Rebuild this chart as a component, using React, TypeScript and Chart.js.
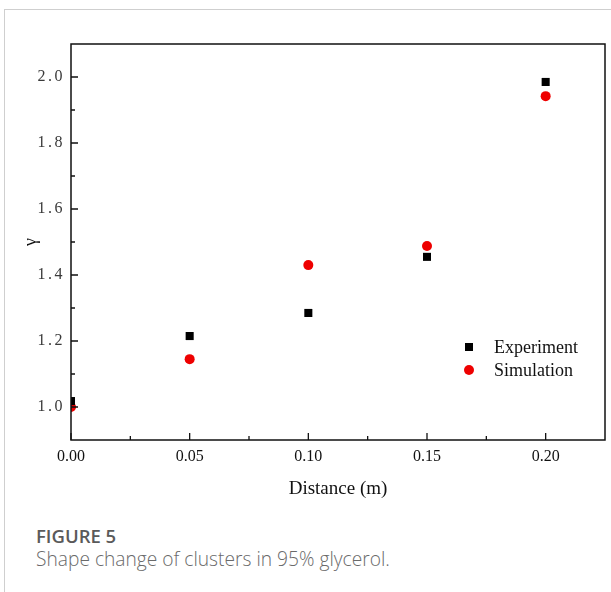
import React, { useEffect, useRef } from "react";
import { Chart, registerables, LinearScale } from "chart.js";

Chart.register(...registerables);

class SpacedLinearScale extends (LinearScale as any) {
  static id = "spacedLinear";
  static defaults = (LinearScale as any).defaults;
  drawLabels(area: any) {
    const ctx = (this as any).ctx;
    ctx.save();
    (ctx as any).letterSpacing = "2.5px";
    super.drawLabels(area);
    ctx.restore();
  }
}
Chart.register(SpacedLinearScale as any);

const distances = [0, 0.05, 0.1, 0.15, 0.2];
const experimentValues = [1.018, 1.215, 1.285, 1.455, 1.985];
const simulationValues = [1.0, 1.145, 1.43, 1.488, 1.942];
const xTicks = [0, 0.05, 0.1, 0.15, 0.2];
const xMinorTicks = [0.025, 0.075, 0.125, 0.175];
const yTicks = [1.0, 1.2, 1.4, 1.6, 1.8, 2.0];
const yMinorTicks = [1.1, 1.3, 1.5, 1.7, 1.9];

const frameAndTicks = {
  id: "frameAndTicks",
  afterDatasetsDraw(chart: any) {
    const { ctx, chartArea } = chart;
    const { left, right, top, bottom } = chartArea;
    const xs = chart.scales.x;
    const ys = chart.scales.y;
    ctx.save();
    ctx.strokeStyle = "#111";
    ctx.lineWidth = 1.5;
    ctx.strokeRect(left, top, right - left, bottom - top);
    ctx.lineWidth = 1.3;
    ctx.beginPath();
    xTicks.forEach((v) => {
      const px = xs.getPixelForValue(v);
      ctx.moveTo(px, bottom);
      ctx.lineTo(px, bottom - 7);
    });
    xMinorTicks.forEach((v) => {
      const px = xs.getPixelForValue(v);
      ctx.moveTo(px, bottom);
      ctx.lineTo(px, bottom - 4);
    });
    yTicks.forEach((v) => {
      const py = ys.getPixelForValue(v);
      ctx.moveTo(left, py);
      ctx.lineTo(left + 7, py);
    });
    yMinorTicks.forEach((v) => {
      const py = ys.getPixelForValue(v);
      ctx.moveTo(left, py);
      ctx.lineTo(left + 4, py);
    });
    ctx.stroke();
    ctx.restore();
  },
};

const innerLegend = {
  id: "innerLegend",
  afterDraw(chart: any) {
    const { ctx, chartArea } = chart;
    const mx = chartArea.right - 136;
    const tx = mx + 25;
    const y0 = chartArea.top + 303;
    const gap = 23;
    ctx.save();
    ctx.font = '18px "Liberation Serif"';
    ctx.textBaseline = "middle";
    ctx.textAlign = "left";
    chart.data.datasets.forEach((ds: any, i: number) => {
      const y = y0 + i * gap;
      ctx.fillStyle = ds.backgroundColor;
      if (ds.pointStyle === "rect") {
        ctx.fillRect(mx - 4, y - 4, 8, 8);
      } else {
        ctx.beginPath();
        ctx.arc(mx, y, 5, 0, Math.PI * 2);
        ctx.fill();
      }
      ctx.fillStyle = "#111";
      ctx.fillText(ds.label, tx, y + 1);
    });
    ctx.restore();
  },
};

export default function App() {
  const canvasRef = useRef<HTMLCanvasElement | null>(null);

  useEffect(() => {
    if (!canvasRef.current) return;
    const chart = new Chart(canvasRef.current, {
      type: "scatter",
      data: {
        datasets: [
          {
            label: "Experiment",
            data: distances.map((d, i) => ({ x: d, y: experimentValues[i] })),
            pointStyle: "rect",
            pointRadius: 5.7,
            pointHoverRadius: 5.7,
            backgroundColor: "#000000",
            borderColor: "#000000",
            borderWidth: 0,
            clip: 0,
          },
          {
            label: "Simulation",
            data: distances.map((d, i) => ({ x: d, y: simulationValues[i] })),
            pointStyle: "circle",
            pointRadius: 5,
            pointHoverRadius: 5,
            backgroundColor: "#ee0000",
            borderColor: "#ee0000",
            borderWidth: 0,
            clip: 0,
          },
        ],
      },
      options: {
        animation: false,
        responsive: false,
        maintainAspectRatio: false,
        layout: { padding: { left: 0, right: 6, top: 44, bottom: 0 } },
        plugins: {
          legend: { display: false },
          tooltip: { enabled: false },
        },
        scales: {
          x: {
            type: "linear",
            min: 0,
            max: 0.225,
            grid: { display: false, drawTicks: false },
            border: { display: false },
            afterBuildTicks: (scale: any) => {
              scale.ticks = xTicks.map((v) => ({ value: v }));
            },
            afterFit: (scale: any) => {
              scale.height = 70;
            },
            ticks: {
              padding: 7,
              color: "#111",
              font: { family: '"Liberation Serif"', size: 16 },
              callback: (v: any) => Number(v).toFixed(2),
              maxRotation: 0,
            },
            title: {
              display: true,
              text: "Distance (m)",
              color: "#111",
              font: { family: '"Liberation Serif"', size: 19 },
              padding: { top: 0, bottom: 10 },
            },
          },
          y: {
            type: "spacedLinear" as any,
            min: 0.9,
            max: 2.1,
            grid: { display: false, drawTicks: false },
            border: { display: false },
            afterBuildTicks: (scale: any) => {
              scale.ticks = yTicks.map((v) => ({ value: v }));
            },
            afterFit: (scale: any) => {
              scale.width = 71;
            },
            ticks: {
              padding: 6,
              color: "#3a3a3a",
              font: { family: '"Liberation Serif"', size: 16 },
              callback: (v: any) => Number(v).toFixed(1),
            },
            title: {
              display: true,
              text: "γ",
              color: "#111",
              font: { family: '"Liberation Serif"', size: 18 },
              padding: { top: 20, bottom: 0 },
            },
          },
        },
      },
      plugins: [frameAndTicks, innerLegend],
    });
    return () => chart.destroy();
  }, []);

  return (
    <div style={{ position: "absolute", left: 0, top: 0, width: 611, height: 592, background: "#fff", overflow: "hidden" }}>
      <div
        style={{
          position: "absolute",
          left: 4,
          top: 9,
          width: 640,
          height: 620,
          borderLeft: "1px solid #cfcfcf",
          borderTop: "1px solid #cfcfcf",
        }}
      />
      <canvas ref={canvasRef} width={611} height={510} style={{ position: "absolute", left: 0, top: 0, width: 611, height: 510 }} />
      <div
        style={{
          position: "absolute",
          left: 36,
          top: 524,
          fontFamily: '"Open Sans", sans-serif',
          lineHeight: "23px",
        }}
      >
        <div style={{ fontSize: 18.5, fontWeight: 600, color: "#5a5a5a" }}>FIGURE 5</div>
        <div style={{ fontSize: 19.2, fontWeight: 300, color: "#6a6a6a" }}>Shape change of clusters in 95% glycerol.</div>
      </div>
    </div>
  );
}
